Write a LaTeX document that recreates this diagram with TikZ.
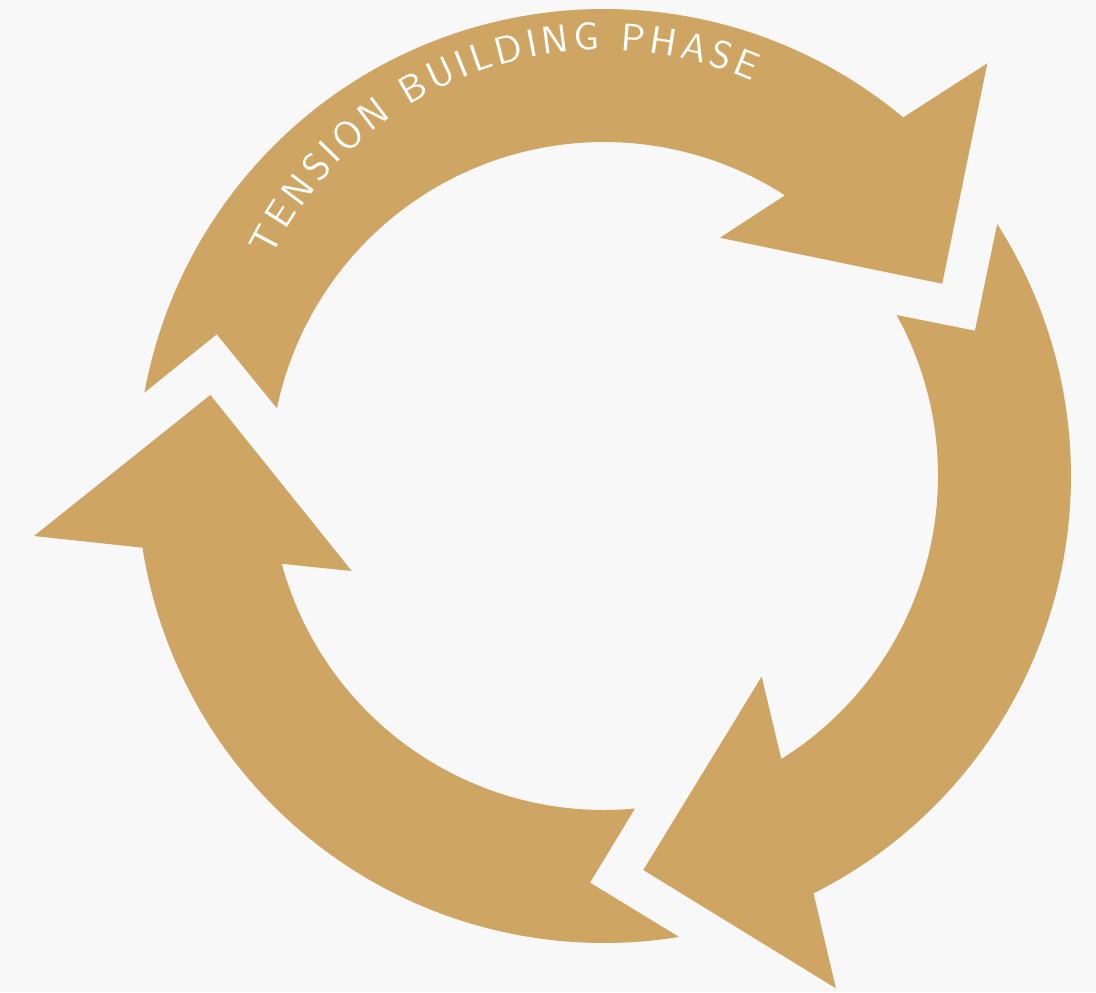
\documentclass[tikz,border=0pt]{standalone}
\usepackage{tikz}
\usetikzlibrary{decorations.text}
\definecolor{cycleGold}{RGB}{206,165,98}
\definecolor{cyclePaper}{RGB}{248,248,248}

\begin{document}
\begin{tikzpicture}[
      band/.style={fill=cycleGold, draw=none},
      phaselabel/.style={decorate, decoration={text along path,
                   text align=fit to path, text color=white,
                   text={|\sffamily\fontsize{11}{13}\selectfont|#1}}}]

    \useasboundingbox[fill=cyclePaper] (-6.04,-5.16) rectangle (4.92,4.76);

    % top arrow
    \fill[band] (169.7:4.67) -- (159.9:4.124) -- (168.3:3.34)
      arc[start angle=168.3, end angle=57.18, radius=3.34]
      -- (64.04:2.65) -- (29.62:3.891) -- (47.11:5.632) -- (50.16:4.67)
      arc[start angle=50.16, end angle=169.7, radius=4.67] -- cycle;

    % right arrow
    \fill[band] (32.65:4.67) -- (21.39:3.984) -- (28.81:3.34)
      arc[start angle=28.81, end angle=-57.93, radius=3.34]
      -- (-51.84:2.552) -- (-84.30:3.96) -- (-65.64:5.624) -- (-63.34:4.67)
      arc[start angle=-63.34, end angle=32.65, radius=4.67] -- cycle;

    % lower left arrow
    \fill[band] (-80.75:4.67) -- (-91.97:4.069) -- (-84.68:3.34)
      arc[start angle=-84.68, end angle=-164.75, radius=3.34]
      -- (-159.37:2.696) -- (-191.63:4.019) -- (-173.99:5.731) -- (-171.17:4.67)
      arc[start angle=-171.17, end angle=-80.75, radius=4.67] -- cycle;

    \path[phaselabel={TENSION BUILDING PHASE}, shift={(0,0.56)}]
      (153.9:3.70) arc[start angle=153.9, end angle=66.4, radius=3.70];
  \end{tikzpicture}
\end{document}
